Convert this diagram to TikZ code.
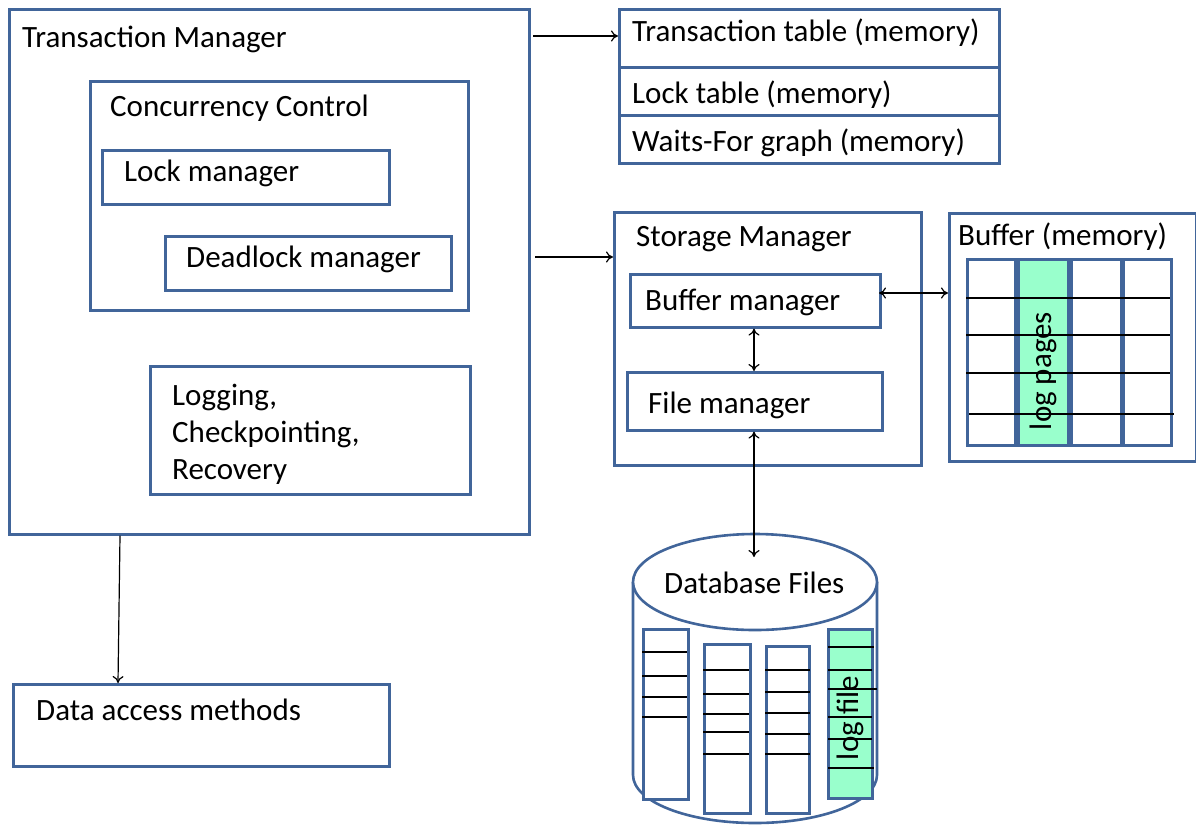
\documentclass[tikz,border=0pt]{standalone}
\usepackage{fontspec}
\setmainfont{Carlito}
\usetikzlibrary{shapes.geometric,calc,arrows.meta}
\definecolor{bord}{HTML}{41659A}
\definecolor{logg}{HTML}{99FFCC}
\tikzset{
  box/.style={draw=bord, line width=2.6pt, anchor=north west, inner sep=0, fill=white},
  lbl/.style={anchor=base west, inner sep=0, font=\fontsize{31}{37}\selectfont},
  arr/.style={-{To[length=7pt,width=11pt]}, line width=1.2pt, black},
  darr/.style={{To[length=7pt,width=11pt]}-{To[length=7pt,width=11pt]}, line width=1.2pt, black},
  fline/.style={line width=2.6pt, black},
}
\begin{document}
\begin{tikzpicture}[x=1pt,y=-1pt]
\useasboundingbox (0,0) rectangle (1196,828);
% Transaction manager
\node[box, minimum width=520, minimum height=525] (tm) at (8,8) {};
\node[lbl] (tml) at (22,47) {Transaction Manager};
\node[box, minimum width=378, minimum height=229] (cc) at (89,80) {};
\node[lbl] (ccl) at (110,116) {Concurrency Control};
\node[box, minimum width=287, minimum height=54] (lm) at (101,149) {};
\node[lbl] (lml) at (124,181) {Lock manager};
\node[box, minimum width=286, minimum height=54] (dm) at (164,235) {};
\node[lbl] (dml) at (186,267) {Deadlock manager};
\node[box, minimum width=320, minimum height=128] (lg) at (149,365) {};
\node[lbl] (lg1) at (172,405) {Logging,};
\node[lbl] (lg2) at (172,442) {Checkpointing,};
\node[lbl] (lg3) at (172,479) {Recovery};
% data access
\node[box, minimum width=376, minimum height=82] (dam) at (12,683) {};
\node[lbl] (daml) at (36,720) {Data access methods};
% tables
\node[box, minimum width=380, minimum height=58] (t1) at (618,8) {};
\node[box, minimum width=380, minimum height=48] (t2) at (618,66) {};
\node[box, minimum width=380, minimum height=48] (t3) at (618,114) {};
\node[lbl] (t1l) at (632,41) {Transaction table (memory)};
\node[lbl] (t2l) at (632,103) {Lock table (memory)};
\node[lbl] (t3l) at (632,151) {Waits-For graph (memory)};
% storage manager
\node[box, minimum width=307, minimum height=253] (sm) at (613,211) {};
\node[lbl] (sml) at (636,246) {Storage Manager};
\node[box, minimum width=250, minimum height=53] (bm) at (629,273) {};
\node[lbl] (bml) at (645,310) {Buffer manager};
\node[box, minimum width=255, minimum height=58] (fm) at (626,371) {};
\node[lbl] (fml) at (648,413) {File manager};
% buffer memory
\node[box, minimum width=247, minimum height=248] (bf) at (948,212) {};
\node[lbl] (bfl) at (958,245) {Buffer (memory)};
\node[box, minimum width=48, minimum height=186] (bc1) at (966,258) {};
\node[box, minimum width=50, minimum height=186, fill=logg] (bc2) at (1017,258) {};
\node[box, minimum width=50, minimum height=186] (bc3) at (1070,258) {};
\node[box, minimum width=48, minimum height=186] (bc4) at (1122,258) {};
\node[rotate=90, inner sep=0, font=\fontsize{31}{37}\selectfont] (lp) at (1043,371) {log pages};
\draw[fline] (966,298) -- (1170,298);
\draw[fline] (966,335) -- (1170,335);
\draw[fline] (966,373) -- (1170,373);
\draw[fline] (969,414) -- (1174,414);
% database cylinder
\draw[draw=bord, line width=2.6pt, fill=white] (633,582) -- (633,775) arc[start angle=180, end angle=0, x radius=122, y radius=48] -- (877,582);
\node[draw=bord, line width=2.6pt, fill=white, ellipse, minimum width=244, minimum height=96, inner sep=0] (db) at (755,582) {};
\node[lbl] (dbl) at (664,593) {Database Files};
\node[box, minimum width=45, minimum height=170] (f1) at (642,628) {};
\node[box, minimum width=46, minimum height=169] (f2) at (703,643) {};
\node[box, minimum width=43, minimum height=167] (f3) at (765,645) {};
\node[box, minimum width=44, minimum height=169, fill=logg] (f4) at (827,628) {};
\foreach \y in {652,676,697,717} \draw[fline] (642,\y) -- (687,\y);
\foreach \y in {670,694,714,732,754} \draw[fline] (703,\y) -- (749,\y);
\foreach \y in {670,692,713,734,754} \draw[fline] (765,\y) -- (810,\y);
\node[rotate=90, inner sep=0, font=\fontsize{31}{37}\selectfont] (lf) at (850,718) {log file};
\foreach \y/\e in {647/874,670/872,689/877,717/872,739/872,768/874} \draw[fline] (828,\y) -- (\e,\y);
% connectors
\coordinate (a1s) at (533,36);
\draw[arr] (a1s) -- (t1.west |- a1s);
\coordinate (a2s) at (535,257);
\draw[arr] (a2s) -- (sm.west |- a2s);
\draw[arr] ($(tm.south west)+(112,0)$) -- ($(dam.north west)+(106,0)$);
\draw[darr] ($(bm.south west)+(125,0)$) -- ($(fm.north west)+(128,0)$);
\coordinate (bme) at (879,293);
\draw[darr] (bme) -- (bf.west |- bme);
\coordinate (dbin) at (754,557);
\draw[darr] ($(fm.south west)+(128,0)$) -- (dbin);
\end{tikzpicture}
\end{document}
